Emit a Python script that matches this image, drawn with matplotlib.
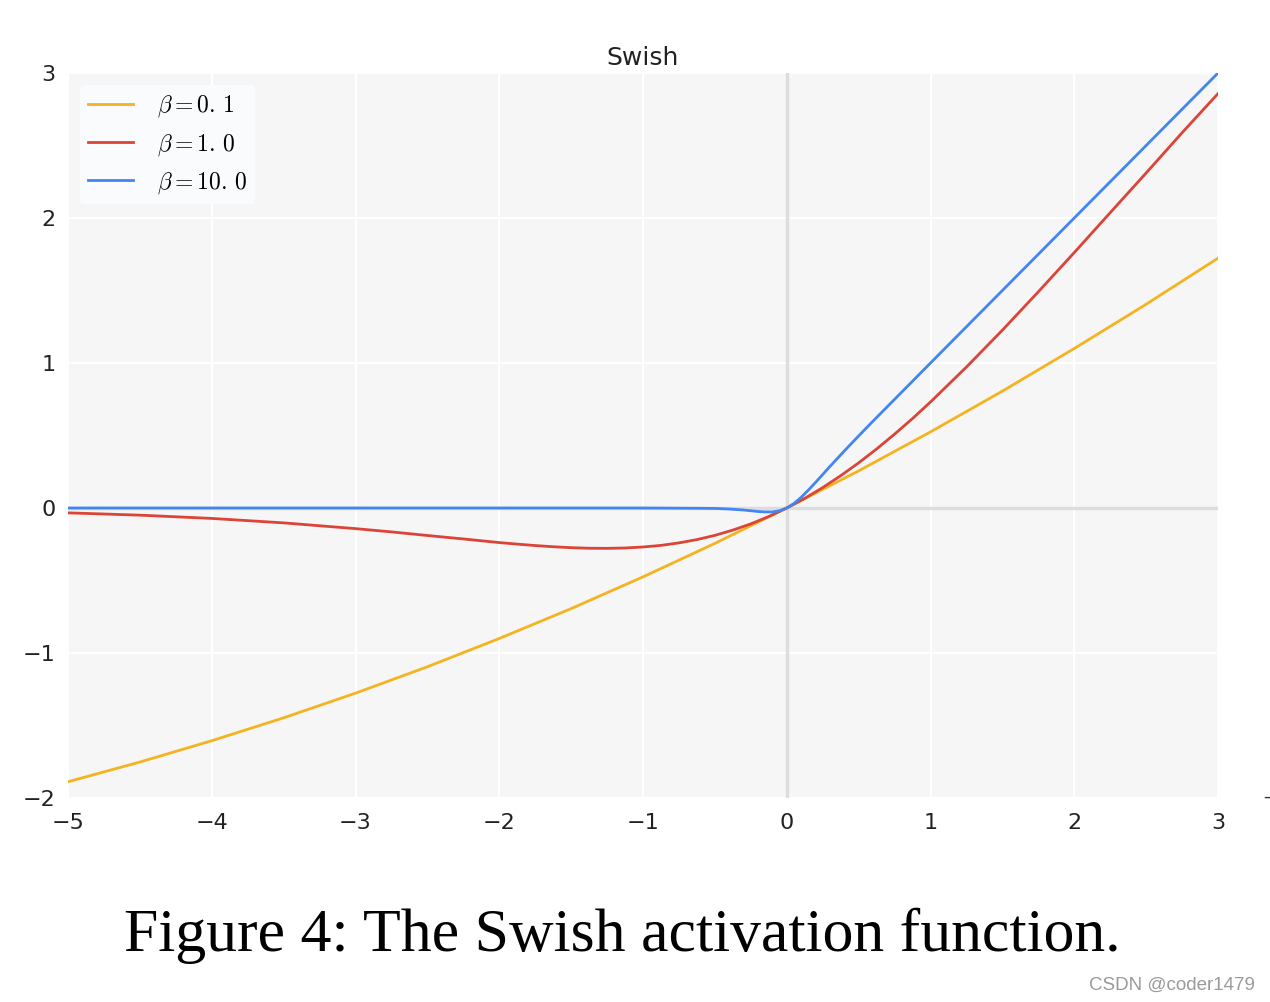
import matplotlib
matplotlib.use("Agg")
import matplotlib.pyplot as plt

plt.rcParams['mathtext.fontset'] = 'cm'

# beta = 0.1
x_b01 = [-5, -4.5, -4, -3.5, -3, -2.5, -2, -1.5, -1, -0.5, 0, 0.5, 1, 1.5, 2, 2.5, 3]
y_b01 = [-1.888, -1.752, -1.605, -1.447, -1.277, -1.095, -0.900, -0.694, -0.475, -0.244, 0.0,
         0.256, 0.525, 0.806, 1.100, 1.405, 1.723]

# beta = 1.0
x_b1 = [-5, -4.5, -4, -3.5, -3, -2.75, -2.5, -2.25, -2, -1.875, -1.75, -1.625, -1.5, -1.375,
        -1.25, -1.125, -1, -0.875, -0.75, -0.625, -0.5, -0.375, -0.25, -0.125, 0,
        0.125, 0.25, 0.375, 0.5, 0.625, 0.75, 0.875, 1, 1.25, 1.5, 1.75, 2, 2.25, 2.5, 2.75, 3]
y_b1 = [-0.0335, -0.0494, -0.0719, -0.1026, -0.1423, -0.1648, -0.1896, -0.2135, -0.2384,
        -0.2491, -0.2590, -0.2672, -0.2736, -0.2776, -0.2784, -0.2758, -0.2689, -0.2579,
        -0.2406, -0.2180, -0.1888, -0.1524, -0.1095, -0.0586, 0.0,
        0.0664, 0.1405, 0.2226, 0.3112, 0.4070, 0.5094, 0.6171, 0.7311, 0.9722, 1.2264,
        1.4911, 1.7616, 2.0366, 2.3103, 2.5880, 2.8577]

# beta = 10.0
x_b10 = [-5, -1, -0.6, -0.5, -0.4, -0.3, -0.2, -0.15, -0.1, -0.05, 0, 0.05, 0.1, 0.15, 0.2,
         0.3, 0.4, 0.5, 0.6, 1, 2, 3]
y_b10 = [0.0, 0.0, -0.002, -0.003, -0.007, -0.014, -0.024, -0.027, -0.027, -0.019, 0.0, 0.031,
         0.073, 0.123, 0.176, 0.286, 0.393, 0.497, 0.599, 1.0, 2.0, 3.0]

labels = [r'$\beta = 0.\,1$', r'$\beta = 1.\,0$', r'$\beta = 10.\,0$']
colors = ['#F4B31F', '#DB4437', '#4285F4']
xticks = [-5, -4, -3, -2, -1, 0, 1, 2, 3]
yticks = [-2, -1, 0, 1, 2, 3]

fig = plt.figure(figsize=(12.7, 10.02), dpi=100)
ax = fig.add_axes([68/1270, 1-798/1002, (1218-68)/1270, (798-73)/1002])
ax.set_facecolor('#F6F6F6')
for s in ax.spines.values():
    s.set_visible(False)
ax.grid(True, color='white', linewidth=1.5)
ax.set_axisbelow(True)
ax.axhline(0, color='#DDDDDD', linewidth=2.5, zorder=1)
ax.axvline(0, color='#DDDDDD', linewidth=2.5, zorder=1)

for xs, ys, lab, c in zip([x_b01, x_b1, x_b10], [y_b01, y_b1, y_b10], labels, colors):
    ax.plot(xs, ys, color=c, linewidth=2, label=lab, zorder=3)

ax.set_xlim(-5, 3)
ax.set_ylim(-2, 3)
ax.set_xticks(xticks)
ax.set_yticks(yticks)
ax.tick_params(axis='x', length=0, labelsize=16, colors='#222222', pad=11)
ax.tick_params(axis='y', length=0, labelsize=16, colors='#222222', pad=9)
ax.set_title('Swish', fontsize=18, color='#222222', pad=6)

leg = ax.legend(loc='upper left', fontsize=17, frameon=True, fancybox=True,
                handlelength=1.9, borderpad=0.35, labelspacing=0.5, handletextpad=1.0,
                borderaxespad=0.5)
leg.get_frame().set_facecolor('#FAFBFC')
leg.get_frame().set_edgecolor('none')
leg.get_frame().set_alpha(1)

fig.text(622/1270, 1-936/1002, 'Figure 4: The Swish activation function.',
         family='Liberation Serif', fontsize=44.5, ha='center', va='center', color='black')
fig.text(1255/1270, 1-985/1002, 'CSDN @coder1479', family='Liberation Sans',
         fontsize=13.5, ha='right', va='center', color='#9A9A9A')
fig.text(1263/1270, 1-797/1002, '\u2013', fontsize=12, ha='left', va='center', color='#333333')

fig.savefig('out.png', dpi=100, facecolor='white')
